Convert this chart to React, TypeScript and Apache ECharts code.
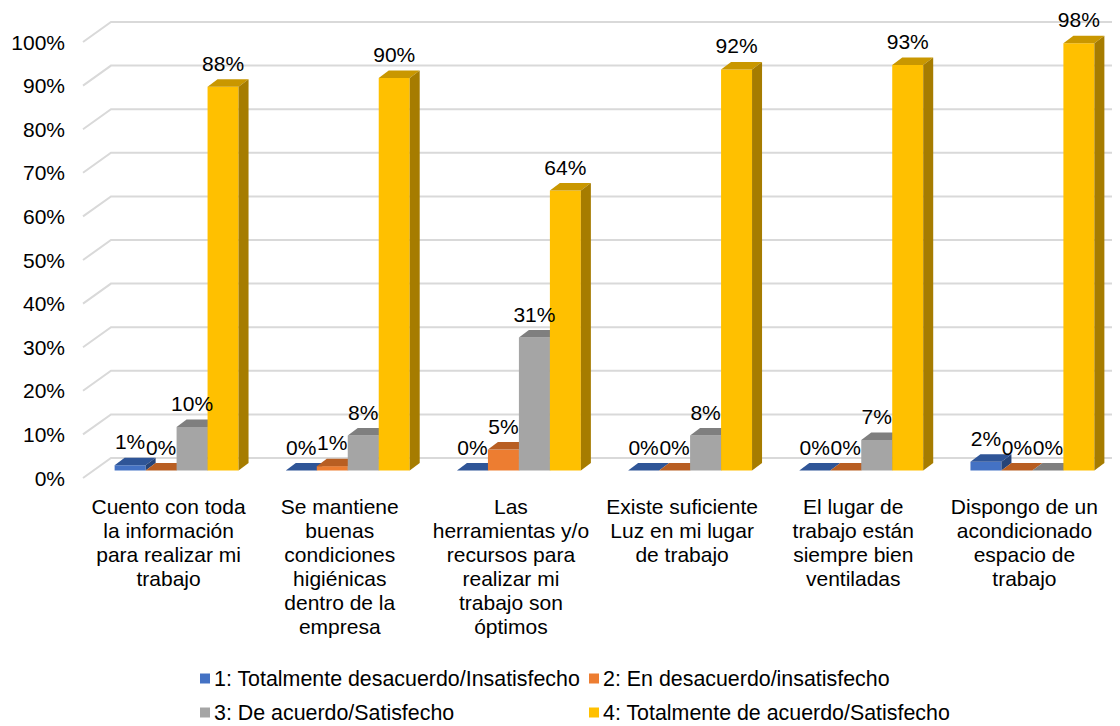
import React, { useEffect, useRef } from "react";
import * as echarts from "echarts";

const categories = [
  "Cuento con toda\nla información\npara realizar mi\ntrabajo",
  "Se mantiene\nbuenas\ncondiciones\nhigiénicas\ndentro de la\nempresa",
  "Las\nherramientas y/o\nrecursos para\nrealizar mi\ntrabajo son\nóptimos",
  "Existe suficiente\nLuz en mi lugar\nde trabajo",
  "El lugar de\ntrabajo están\nsiempre bien\nventiladas",
  "Dispongo de un\nacondicionado\nespacio de\ntrabajo",
];

const seriesNames = [
  "1: Totalmente desacuerdo/Insatisfecho",
  "2: En desacuerdo/insatisfecho",
  "3: De acuerdo/Satisfecho",
  "4: Totalmente de acuerdo/Satisfecho",
];

const totalmenteDesacuerdo = [0.012, 0.0, 0.0, 0.0, 0.0, 0.02];
const enDesacuerdo = [0.0, 0.01, 0.048, 0.0, 0.0, 0.0];
const deAcuerdo = [0.1, 0.08, 0.305, 0.08, 0.07, 0.0];
const totalmenteDeAcuerdo = [0.88, 0.9, 0.642, 0.92, 0.93, 0.98];

const seriesValues = [totalmenteDesacuerdo, enDesacuerdo, deAcuerdo, totalmenteDeAcuerdo];

const yTicks = [0, 0.1, 0.2, 0.3, 0.4, 0.5, 0.6, 0.7, 0.8, 0.9, 1.0];

const frontColors = ["#4472C4", "#ED7D31", "#A5A5A5", "#FFC000"];
const topColors = ["#2F5597", "#B85E22", "#7F7F7F", "#C99700"];
const sideColors = ["#264478", "#9E4A15", "#6B6B6B", "#A67C00"];

const FONT = "'Liberation Sans', Arial, sans-serif";

// 3D geometry offsets (pixels)
const BAR_DX = 8;
const BAR_DY = -7.5;
const DEPTH_X = 10;
const DEPTH_Y = 7.5;
const WALL_DX = 28;
const WALL_DY = 20;

export default function App() {
  const ref = useRef<HTMLDivElement>(null);

  useEffect(() => {
    if (!ref.current) return;
    const chart = echarts.init(ref.current, null, { renderer: "svg" });

    const barSeries = seriesValues.map((vals, si) => ({
      name: seriesNames[si],
      type: "custom",
      z: 2,
      itemStyle: { color: frontColors[si] },
      data: vals.map((v, ci) => [ci, v]),
      renderItem: (params: any, api: any) => {
        const ci = api.value(0);
        const v = api.value(1);
        const base = api.coord([ci, 0]);
        const top = api.coord([ci, v]);
        const bandW = api.size([1, 0])[0];
        const barW = bandW * 0.181;
        const x0 = base[0] - 2 * barW + si * barW + BAR_DX;
        const yb = base[1] + BAR_DY;
        const yt = top[1] + BAR_DY;
        const children: any[] = [];
        if (yb - yt > 0.1) {
          children.push({
            type: "rect",
            shape: { x: x0, y: yt, width: barW, height: yb - yt },
            style: { fill: frontColors[si] },
          });
        }
        children.push({
          type: "polygon",
          shape: {
            points: [
              [x0, yt],
              [x0 + barW, yt],
              [x0 + barW + DEPTH_X, yt - DEPTH_Y],
              [x0 + DEPTH_X, yt - DEPTH_Y],
            ],
          },
          style: { fill: topColors[si] },
        });
        if (yb - yt > 0.1) {
          children.push({
            type: "polygon",
            shape: {
              points: [
                [x0 + barW, yt],
                [x0 + barW + DEPTH_X, yt - DEPTH_Y],
                [x0 + barW + DEPTH_X, yb - DEPTH_Y],
                [x0 + barW, yb],
              ],
            },
            style: { fill: sideColors[si] },
          });
        }
        children.push({
          type: "text",
          z2: 100,
          style: {
            x: x0 + barW / 2,
            y: yt - DEPTH_Y - 16,
            text: Math.round(v * 100) + "%",
            fill: "#000",
            font: `21px ${FONT}`,
            align: "center",
            verticalAlign: "middle",
          },
        });
        return { type: "group", children };
      },
    }));

    const gridSeries = {
      name: "grid",
      type: "custom",
      z: 1,
      silent: true,
      data: yTicks.map((t) => [0, t]),
      renderItem: (params: any, api: any) => {
        const v = api.value(1);
        const p = api.coord([0, v]);
        const left = params.coordSys.x;
        const y = p[1];
        return {
          type: "polyline",
          shape: {
            points: [
              [left, y],
              [left + WALL_DX, y - WALL_DY],
              [1130, y - WALL_DY],
            ],
          },
          style: { stroke: "#D9D9D9", lineWidth: 2, fill: "none" },
        };
      },
    };

    const legendBase = {
      itemWidth: 10,
      itemHeight: 10,
      icon: "rect",
      padding: 0,
      textStyle: { fontSize: 21.4, color: "#000", fontFamily: FONT, padding: [0, 0, 0, -1] },
    };

    chart.setOption({
      animation: false,
      backgroundColor: "#fff",
      grid: { left: 83, right: 10, top: 42, bottom: 248, containLabel: false },
      xAxis: {
        type: "category",
        data: categories,
        axisLine: { show: false },
        axisTick: { show: false },
        splitLine: { show: false },
        axisLabel: {
          interval: 0,
          margin: 16,
          fontSize: 21,
          lineHeight: 24,
          color: "#000",
          fontFamily: FONT,
          align: "center",
        },
      },
      yAxis: {
        type: "value",
        min: 0,
        max: 1,
        interval: 0.1,
        axisLine: { show: false },
        axisTick: { show: false },
        splitLine: { show: false },
        axisLabel: {
          margin: 18,
          fontSize: 21,
          color: "#000",
          fontFamily: FONT,
          formatter: (v: number) => Math.round(v * 100) + "%",
        },
      },
      legend: [
        { ...legendBase, left: 200, top: 668, data: [seriesNames[0]] },
        { ...legendBase, left: 589, top: 668, data: [seriesNames[1]] },
        { ...legendBase, left: 200, top: 702, data: [seriesNames[2]] },
        { ...legendBase, left: 589, top: 702, data: [seriesNames[3]] },
      ],
      series: [gridSeries, ...barSeries],
    });

    return () => chart.dispose();
  }, []);

  return <div ref={ref} style={{ width: 1120, height: 726, marginLeft: -8, marginTop: -8 }} />;
}
